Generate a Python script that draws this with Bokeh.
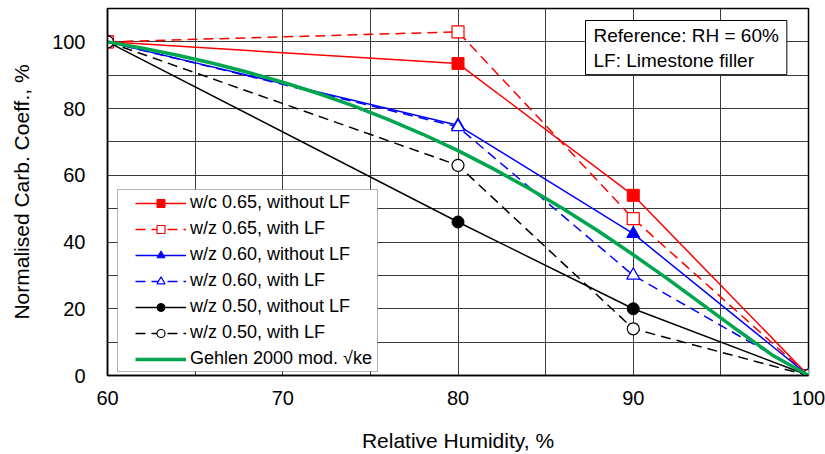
from bokeh.plotting import figure
from bokeh.models import FixedTicker, Legend, LegendItem, Label, Range1d, BoxAnnotation
from bokeh.embed import file_html
from bokeh.resources import INLINE

# ---- data ----
rh = [60, 80, 90, 100]
wc065_noLF = [100, 93.5, 54, 0]
wz065_LF = [100, 103, 47, 0]
wz060_noLF = [100, 75, 42.5, 0]
wz060_LF = [100, 74.5, 30, 0]
wz050_noLF = [100, 46, 20, 0]
wz050_LF = [100, 63, 14, 0]

gehlen_rh = [60, 62, 64, 66, 68, 70, 72, 74, 76, 78, 80, 82, 84, 86, 88, 90, 92, 94, 96, 98, 100]
gehlen_val = [100, 98.1, 96.0, 93.6, 90.9, 87.9, 84.6, 80.9, 76.8, 72.3, 67.4, 62.0, 56.2, 50.0, 43.3, 36.2, 28.8, 21.1, 13.4, 5.9, 0]

x_ticks = [60, 70, 80, 90, 100]
x_grid = [60, 65, 70, 75, 80, 85, 90, 95, 100]
y_ticks = [0, 20, 40, 60, 80, 100]
y_grid = [0, 10, 20, 30, 40, 50, 60, 70, 80, 90, 100, 110]

FONT = "Liberation Sans"

p = figure(width=825, height=454, output_backend="svg", toolbar_location=None,
           x_range=Range1d(60, 100), y_range=Range1d(0, 110),
           min_border_left=107, min_border_right=17, min_border_top=8, min_border_bottom=79)

p.outline_line_color = "black"
p.outline_line_width = 1.5
p.background_fill_color = "white"
p.border_fill_color = "white"

p.xaxis.ticker = FixedTicker(ticks=x_ticks, minor_ticks=x_grid)
p.yaxis.ticker = FixedTicker(ticks=y_ticks, minor_ticks=y_grid)
for ax in (p.xaxis[0], p.yaxis[0]):
    ax.major_tick_in = 0
    ax.major_tick_out = 0
    ax.minor_tick_in = 0
    ax.minor_tick_out = 0
    ax.axis_line_color = "black"
    ax.axis_line_width = 1.5
    ax.major_label_text_font = FONT
    ax.major_label_text_font_size = "20px"
    ax.major_label_text_color = "black"
    ax.axis_label_text_font = FONT
    ax.axis_label_text_font_size = "21px"
    ax.axis_label_text_font_style = "normal"
    ax.axis_label_text_color = "black"

p.xaxis.axis_label = "Relative Humidity, %"
p.yaxis.axis_label = "Normalised Carb. Coeff., %"
p.xaxis.major_label_standoff = 15
p.yaxis.major_label_standoff = 22
p.xaxis.axis_label_standoff = 21
p.yaxis.axis_label_standoff = 16

for g in (p.xgrid[0], p.ygrid[0]):
    g.grid_line_color = "#3a3a3a"
    g.grid_line_width = 1
    g.minor_grid_line_color = "#3a3a3a"
    g.minor_grid_line_width = 1

DASH = "10 6"
items = []

l1 = p.line(rh, wc065_noLF, line_color="red", line_width=1.5)
m1 = p.scatter(rh, wc065_noLF, marker="square", size=12, fill_color="red", line_color="red")
items.append(LegendItem(label="w/c 0.65, without LF", renderers=[l1, m1]))

l2 = p.line(rh, wz065_LF, line_color="red", line_width=1.5, line_dash=DASH)
m2 = p.scatter(rh, wz065_LF, marker="square", size=12, fill_color="white", line_color="red", line_width=1.2)
items.append(LegendItem(label="w/z 0.65, with LF", renderers=[l2, m2]))

l3 = p.line(rh, wz060_noLF, line_color="blue", line_width=1.5)
m3 = p.scatter(rh, wz060_noLF, marker="triangle", size=13, fill_color="blue", line_color="blue")
items.append(LegendItem(label="w/z 0.60, without LF", renderers=[l3, m3]))

l4 = p.line(rh, wz060_LF, line_color="blue", line_width=1.5, line_dash=DASH)
m4 = p.scatter(rh, wz060_LF, marker="triangle", size=13, fill_color="white", line_color="blue", line_width=1.2)
items.append(LegendItem(label="w/z 0.60, with LF", renderers=[l4, m4]))

l5 = p.line(rh, wz050_noLF, line_color="black", line_width=1.5)
m5 = p.scatter(rh, wz050_noLF, marker="circle", size=12, fill_color="black", line_color="black")
items.append(LegendItem(label="w/z 0.50, without LF", renderers=[l5, m5]))

l6 = p.line(rh, wz050_LF, line_color="black", line_width=1.5, line_dash=DASH)
m6 = p.scatter(rh, wz050_LF, marker="circle", size=12, fill_color="white", line_color="black", line_width=1.2)
items.append(LegendItem(label="w/z 0.50, with LF", renderers=[l6, m6]))

l7 = p.line(gehlen_rh, gehlen_val, line_color="#00a550", line_width=3.5)
items.append(LegendItem(label="Gehlen 2000 mod. \u221ake", renderers=[l7]))

# legend frame (drawn separately to get the wide left inset)
box = BoxAnnotation(left=10, right=270, bottom=4, top=186,
                    left_units="screen", right_units="screen",
                    bottom_units="screen", top_units="screen",
                    fill_color="white", fill_alpha=1,
                    line_color="black", line_width=1)
p.add_layout(box)

legend = Legend(items=items, location=(28, 6))
legend.label_text_font = FONT
legend.label_text_font_size = "18px"
legend.label_text_color = "black"
legend.glyph_width = 51
legend.glyph_height = 20
legend.label_height = 20
legend.label_standoff = 4
legend.spacing = 5
legend.padding = 2
legend.margin = 0
legend.border_line_color = None
legend.background_fill_alpha = 0
p.add_layout(legend, "center")

note = Label(x=478, y=355, x_units="screen", y_units="screen", anchor="top_left",
             text="Reference: RH = 60%\nLF: Limestone filler",
             text_font=FONT, text_font_size="19px", text_color="black",
             border_line_color="black", border_line_width=1,
             background_fill_color="white", background_fill_alpha=1,
             padding=dict(left=8, right=8, top=4, bottom=4))
p.add_layout(note)

open("out.html", "w").write(file_html(p, INLINE))
